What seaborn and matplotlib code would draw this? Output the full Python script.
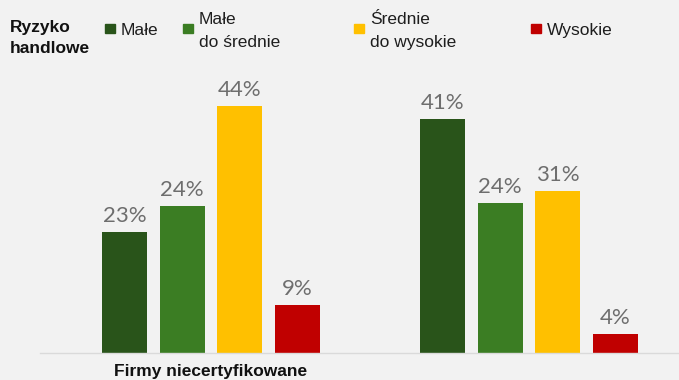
import numpy as np
import pandas as pd
import matplotlib.pyplot as plt
import seaborn as sns
from matplotlib.patches import Rectangle

# data (bar heights as drawn, labels as printed)
groups = ["Firmy niecertyfikowane", "Firmy certyfikowane"]
group_labels = ["Firmy niecertyfikowane", ""]
risk = ["Małe", "Małe\ndo średnie", "Średnie\ndo wysokie", "Wysokie"]
niecert = [21.6, 26.2, 44.0, 8.6]
cert = [41.7, 26.7, 28.9, 3.4]
niecert_lab = ["23%", "24%", "44%", "9%"]
cert_lab = ["41%", "24%", "31%", "4%"]
colors = ["#29541a", "#3b7d23", "#ffc000", "#c00000"]

data = pd.DataFrame({
    "grupa": [groups[0]] * 4 + [groups[1]] * 4,
    "ryzyko": risk * 2,
    "udzial": niecert + cert,
})

sns.set_theme(style="white")
plt.rcParams["font.family"] = ["Liberation Sans", "DejaVu Sans"]
bg = "#f2f2f2"
W, H = 679, 380

fig = plt.figure(figsize=(6.79, 3.80), dpi=100, facecolor=bg)
ax = fig.add_axes([40 / W, 27 / H, 639 / W, 294 / H], facecolor=bg)

sns.barplot(data=data, x="grupa", y="udzial", hue="ryzyko", order=groups,
            hue_order=risk, palette=colors, width=0.726, gap=0.22,
            saturation=1, linewidth=0, ax=ax, legend=False)

# one container per hue level -> labels per risk level
for k, cont in enumerate(ax.containers):
    ax.bar_label(cont, labels=[niecert_lab[k], cert_lab[k]],
                 padding=4.5, color="#6e6e6e", fontsize=16,
                 family=["Lato", "DejaVu Sans"])

ax.set_xlim(-0.538, 1.472)
ax.set_ylim(0, 294 / 5.61)
ax.set_xlabel("")
ax.set_ylabel("")
ax.set_yticks([])
ax.set_xticks([])
for s in ["top", "right", "left"]:
    ax.spines[s].set_visible(False)
ax.spines["bottom"].set_color("#dadada")
ax.spines["bottom"].set_linewidth(1)

# group label under the first group
for i, lab in enumerate(group_labels):
    if lab:
        ax.annotate(lab, xy=(i, 0), xytext=(0, -23), textcoords="offset pixels",
                    ha="center", va="baseline", fontsize=12.5, fontweight="bold",
                    color="#111111", annotation_clip=False)


def fy(px):
    return 1 - px / H


# legend drawn as a header row (baseline = last line)
fig.text(10 / W, fy(53), "Ryzyko\nhandlowe", fontsize=12.5, fontweight="bold",
         color="#111111", ha="left", va="baseline", linespacing=1.5)
leg_x = [105, 183, 354, 531]
for x0, lab, c in zip(leg_x, risk, colors):
    fig.patches.append(Rectangle((x0 / W, fy(33)), 10 / W, 9 / H,
                                 transform=fig.transFigure, color=c))
    base = 35 if "\n" not in lab else 47
    fig.text((x0 + 16) / W, fy(base), lab, fontsize=12.5, color="#1e1e1e",
             ha="left", va="baseline", linespacing=1.65)

fig.savefig("out.png", dpi=100, facecolor=bg)
